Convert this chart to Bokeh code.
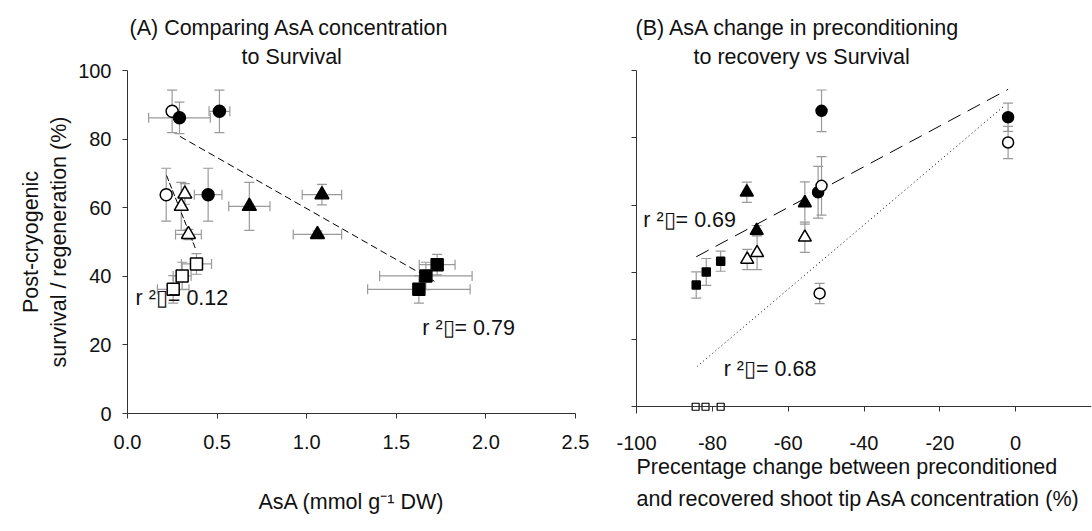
import numpy as np
from bokeh.plotting import figure
from bokeh.models import (Range1d, FixedTicker, Whisker, TeeHead, ColumnDataSource,
                          Label, CustomJSTickFormatter, PrintfTickFormatter, Title, LinearAxis)
from bokeh.layouts import row
from bokeh.embed import file_html
from bokeh.resources import INLINE

# ---------------- data: panel A (AsA concentration vs survival) ----------------
a_fcirc_x = [0.29, 0.513, 0.45]
a_fcirc_y = [86.2, 88.1, 63.8]
a_fcirc_xe = [0.172, 0.058, 0.077]
a_fcirc_ye = [4.6, 6.2, 7.7]

a_ocirc_x = [0.249, 0.216]
a_ocirc_y = [88.1, 63.8]
a_ocirc_xe = [0.0, 0.0]
a_ocirc_ye = [6.2, 7.7]

a_ftri_x = [0.68, 1.085, 1.06]
a_ftri_y = [60.4, 63.8, 52.2]
a_ftri_xe = [0.115, 0.11, 0.135]
a_ftri_ye = [7.0, 3.0, 1.0]

a_otri_x = [0.32, 0.30, 0.34]
a_otri_y = [64.0, 60.4, 52.2]
a_otri_xe = [0.0, 0.0, 0.072]
a_otri_ye = [3.0, 7.0, 1.5]

a_fsq_x = [1.728, 1.665, 1.626]
a_fsq_y = [43.4, 40.1, 36.2]
a_fsq_xe = [0.10, 0.258, 0.286]
a_fsq_ye = [3.0, 4.0, 4.0]

a_osq_x = [0.385, 0.305, 0.255]
a_osq_y = [43.6, 40.1, 36.2]
a_osq_xe = [0.084, 0.05, 0.088]
a_osq_ye = [3.0, 4.0, 4.0]

a_fit1_x = [0.292, 1.728]
a_fit1_y = [80.8, 38.1]
a_fit2_x = [0.218, 0.38]
a_fit2_y = [69.4, 48.0]

a_xticks = [0, 0.5, 1.0, 1.5, 2.0, 2.5]
y_ticks = [0, 20, 40, 60, 80, 100]

# ---------------- data: panel B (% change vs survival) ----------------
b_fcirc_x = [-51.2, -52.1, -2.0]
b_fcirc_y = [88.0, 63.8, 86.1]
b_fcirc_ye = [6.2, 7.7, 4.2]

b_ocirc_x = [-51.2, -51.7, -2.0]
b_ocirc_y = [65.7, 33.7, 78.6]
b_ocirc_ye = [8.7, 3.0, 4.8]

b_ftri_x = [-70.9, -68.3, -55.6]
b_ftri_y = [63.8, 52.4, 60.6]
b_ftri_ye = [3.0, 1.5, 6.3]

b_otri_x = [-70.8, -68.2, -55.6]
b_otri_y = [43.8, 45.8, 50.4]
b_otri_ye = [3.0, 5.0, 4.5]

b_fsq_x = [-84.25, -81.6, -77.8]
b_fsq_y = [36.2, 40.1, 43.3]
b_fsq_ye = [3.9, 4.0, 3.0]

b_osq_x = [-84.4, -81.8, -77.8]
b_osq_y = [0.0, 0.0, 0.0]

b_fit1_x = [-84.25, -2.0]
b_fit1_y = [44.6, 94.4]
b_fit2_x = [-84.0, -3.2]
b_fit2_y = [12.0, 89.3]

b_xticks = [-100, -80, -60, -40, -20, 0]

r2_labels = ["r \u00b2\u25af= 0.12", "r \u00b2\u25af= 0.79", "r \u00b2\u25af= 0.69", "r \u00b2\u25af= 0.68"]

# ---------------- style ----------------
FONT = "Liberation Sans"
GRAY = "#9a9a9a"
AXC = "#333333"
TXT = "#111111"
FS = "21.5px"
TICKFS = "20px"


def style(p):
    p.toolbar_location = None
    p.outline_line_color = None
    p.xgrid.visible = False
    p.ygrid.visible = False
    p.background_fill_color = "white"
    p.border_fill_color = "white"
    for ax in (p.xaxis[0], p.yaxis[0]):
        style_axis(ax)


def style_axis(ax):
    ax.axis_line_color = AXC
    ax.major_tick_line_color = AXC
    ax.minor_tick_line_color = None
    ax.major_tick_out = 5
    ax.major_tick_in = 0
    ax.major_label_text_font = FONT
    ax.major_label_text_font_size = TICKFS
    ax.major_label_text_color = TXT
    ax.axis_label_text_font = FONT
    ax.axis_label_text_font_size = FS
    ax.axis_label_text_font_style = "normal"
    ax.axis_label_text_color = TXT


def label_axis(p, side, text, standoff):
    ax = LinearAxis(ticker=FixedTicker(ticks=[]), axis_line_color=None,
                    major_tick_line_color=None, minor_tick_line_color=None,
                    major_tick_out=0, major_tick_in=0, major_label_standoff=0)
    ax.axis_label = text
    ax.axis_label_text_font = FONT
    ax.axis_label_text_font_size = FS
    ax.axis_label_text_font_style = "normal"
    ax.axis_label_text_color = TXT
    ax.axis_label_standoff = standoff
    p.add_layout(ax, side)
    return ax


def add_title(p, text, offset, standoff, side="above"):
    p.add_layout(Title(text=text, align="left", offset=offset, standoff=standoff,
                       text_font=FONT, text_font_size=FS, text_font_style="normal",
                       text_color=TXT), side)


def errbars(p, x, y, err, dim):
    x = np.asarray(x, float); y = np.asarray(y, float); err = np.asarray(err, float)
    m = err > 0
    if not m.any():
        return
    if dim == "height":
        src = ColumnDataSource(dict(base=x[m], lo=y[m] - err[m], hi=y[m] + err[m]))
    else:
        src = ColumnDataSource(dict(base=y[m], lo=x[m] - err[m], hi=x[m] + err[m]))
    w = Whisker(source=src, base="base", lower="lo", upper="hi", dimension=dim,
                line_color=GRAY, line_width=1.2, level="underlay",
                lower_head=TeeHead(size=10, line_color=GRAY, line_width=1.2),
                upper_head=TeeHead(size=10, line_color=GRAY, line_width=1.2))
    p.add_layout(w)


def pts(p, x, y, marker, filled, size):
    p.scatter(x, y, marker=marker, size=size, line_color="black", line_width=1.5,
              fill_color="black" if filled else "white")


def lab(p, x, y, text):
    p.add_layout(Label(x=x, y=y, text=text, text_font=FONT, text_font_size=FS,
                       text_color=TXT, text_align="left", text_baseline="middle"))


H = 531

# ---------------- panel A ----------------
pA = figure(width=600, height=H, output_backend="svg", toolbar_location=None, title=None,
            x_range=Range1d(0, 2.5), y_range=Range1d(0, 100),
            min_border_left=127, min_border_right=25, min_border_top=70, min_border_bottom=118)
style(pA)
pA.xaxis.ticker = FixedTicker(ticks=a_xticks)
pA.xaxis.formatter = PrintfTickFormatter(format="%.1f")
pA.yaxis.ticker = FixedTicker(ticks=y_ticks)
pA.xaxis.major_label_standoff = 16
pA.yaxis.major_label_standoff = 11
pA.yaxis.axis_label = "survival / regeneration (%)"
pA.yaxis.axis_label_standoff = 4
label_axis(pA, "left", "Post-cryogenic", 2)
pA.xaxis.axis_label = "AsA (mmol g\u207b\u00b9 DW)"
pA.xaxis.axis_label_standoff = 38
add_title(pA, "to Survival", 114, 3)
add_title(pA, "(A) Comparing AsA concentration", 2, 4)

for xs, ys, xe, ye in [(a_fcirc_x, a_fcirc_y, a_fcirc_xe, a_fcirc_ye),
                       (a_ocirc_x, a_ocirc_y, a_ocirc_xe, a_ocirc_ye),
                       (a_ftri_x, a_ftri_y, a_ftri_xe, a_ftri_ye),
                       (a_otri_x, a_otri_y, a_otri_xe, a_otri_ye),
                       (a_fsq_x, a_fsq_y, a_fsq_xe, a_fsq_ye),
                       (a_osq_x, a_osq_y, a_osq_xe, a_osq_ye)]:
    errbars(pA, xs, ys, ye, "height")
    errbars(pA, xs, ys, xe, "width")

pA.line(a_fit1_x, a_fit1_y, line_color="black", line_width=1, line_dash="7 4")
pA.line(a_fit2_x, a_fit2_y, line_color="black", line_width=1, line_dash="6 2")

pts(pA, a_ocirc_x, a_ocirc_y, "circle", False, 12)
pts(pA, a_fcirc_x, a_fcirc_y, "circle", True, 12)
pts(pA, a_ftri_x, a_ftri_y, "triangle", True, 14)
pts(pA, a_otri_x, a_otri_y, "triangle", False, 14)
pts(pA, a_fsq_x, a_fsq_y, "square", True, 12)
pts(pA, a_osq_x, a_osq_y, "square", False, 12)

lab(pA, 0.045, 33.8, r2_labels[0])
lab(pA, 1.645, 24.8, r2_labels[1])

# ---------------- panel B ----------------
pB = figure(width=492, height=H, output_backend="svg", toolbar_location=None, title=None,
            x_range=Range1d(-100, 20), y_range=Range1d(-2, 100),
            min_border_left=36, min_border_right=1, min_border_top=70, min_border_bottom=111)
style(pB)
pB.xaxis.ticker = FixedTicker(ticks=b_xticks)
pB.xaxis.formatter = CustomJSTickFormatter(code="return ''")
pB.xaxis.major_label_standoff = 0
pB.xaxis.fixed_location = 0
pB.yaxis.ticker = FixedTicker(ticks=y_ticks)
pB.yaxis.formatter = CustomJSTickFormatter(code="return ''")
pB.yaxis.major_label_standoff = 0

# tick labels of the x axis (drawn outside the frame)
bx2 = LinearAxis(ticker=FixedTicker(ticks=b_xticks), axis_line_color=None,
                 major_tick_line_color=None, minor_tick_line_color=None)
style_axis(bx2)
bx2.axis_line_color = None
bx2.major_tick_line_color = None
bx2.major_tick_out = 0
bx2.major_label_standoff = 22
bx2.formatter = CustomJSTickFormatter(code="return String(tick)")
pB.add_layout(bx2, "below")
# two-line, left-aligned x-axis caption
add_title(pB, "Precentage change between preconditioned", 0, 0, side="below")
add_title(pB, "and recovered shoot tip AsA concentration (%)", 0, 13, side="below")
add_title(pB, "to recovery vs Survival", 57, 3)
add_title(pB, "(B) AsA change in preconditioning", -1, 4)

for xs, ys, ye in [(b_fcirc_x, b_fcirc_y, b_fcirc_ye), (b_ocirc_x, b_ocirc_y, b_ocirc_ye),
                   (b_ftri_x, b_ftri_y, b_ftri_ye), (b_otri_x, b_otri_y, b_otri_ye),
                   (b_fsq_x, b_fsq_y, b_fsq_ye)]:
    errbars(pB, xs, ys, ye, "height")

pB.line(b_fit1_x, b_fit1_y, line_color="black", line_width=1, line_dash="14 8")
pB.line(b_fit2_x, b_fit2_y, line_color="black", line_width=1, line_dash="1 3")

pts(pB, b_fcirc_x, b_fcirc_y, "circle", True, 11)
pts(pB, b_ocirc_x, b_ocirc_y, "circle", False, 11)
pts(pB, b_ftri_x, b_ftri_y, "triangle", True, 13)
pts(pB, b_otri_x, b_otri_y, "triangle", False, 13)
pts(pB, b_fsq_x, b_fsq_y, "square", True, 8)
pB.scatter(b_osq_x, b_osq_y, marker="square", size=7, line_color="black", line_width=1.2,
           fill_color="white")

lab(pB, -98.2, 55.4, r2_labels[2])
lab(pB, -77.0, 11.1, r2_labels[3])

layout = row(pA, pB)
open("out.html", "w").write(file_html(layout, INLINE))
